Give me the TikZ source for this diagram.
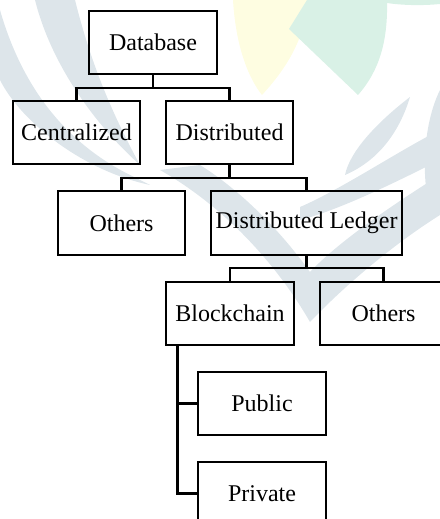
\documentclass[tikz,border=0pt]{standalone}
\usepackage{fontspec}
\setmainfont{Liberation Serif}
\usetikzlibrary{calc}
\definecolor{wmgray}{RGB}{221,229,234}
\definecolor{wmyellow}{RGB}{254,253,225}
\definecolor{wmgreen}{RGB}{217,241,230}
\tikzset{
  box/.style={draw=black, line width=2.6bp, inner sep=0pt, minimum width=128bp, minimum height=63bp,
    font=\fontsize{24bp}{28bp}\selectfont},
  conn/.style={draw=black, line width=2.6bp},
  wmg/.style={fill=wmgray, draw=none},
}
\begin{document}
\begin{tikzpicture}[x=1bp,y=-1bp]
\useasboundingbox (0,0) rectangle (440,519);
\clip (0,0) rectangle (440,519);
% watermark
\fill[wmyellow] (233,0) .. controls (236,50) and (250,80) .. (262,95) .. controls (285,70) and (305,40) .. (308,0) -- cycle;
\fill[wmgreen] (307,0) -- (289,29) -- (358,95) .. controls (380,70) and (388,40) .. (387,0) -- cycle;
\fill[wmgreen] (387,0) -- (440,0) -- (440,4) .. controls (420,6) and (400,5) .. (387,3) -- cycle;
\path[wmg] (0,10) .. controls (20,80) and (60,140) .. (130,175) -- (150,185) .. controls (80,170) and (20,120) .. (0,80) -- cycle;
\path[wmg] (35,0) -- (75,0) .. controls (90,60) and (110,110) .. (140,165) .. controls (90,120) and (50,60) .. (35,0) -- cycle;
\path[wmg] (160,170) .. controls (230,210) and (280,270) .. (310,322) .. controls (350,280) and (400,240) .. (440,215) -- (440,175) .. controls (400,200) and (340,240) .. (310,272) .. controls (280,230) and (240,190) .. (200,165) -- cycle;
\path[wmg] (410,97) .. controls (380,120) and (350,150) .. (345,175) .. controls (380,160) and (400,130) .. (410,97) -- cycle;
\path[wmg] (300,207) .. controls (340,190) and (400,150) .. (440,130) -- (440,160) .. controls (400,180) and (340,210) .. (300,220) -- cycle;
\path[wmg] (440,90) .. controls (425,120) and (420,170) .. (430,210) -- (440,210) -- cycle;
% nodes
\node[box] (db) at (153,42.5) {Database};
\node[box, minimum width=127bp] (cen) at (76.5,132.5) {Centralized};
\node[box, minimum width=127bp] (dist) at (229.5,132.5) {Distributed};
\node[box, minimum width=127bp, minimum height=64bp] (oth1) at (121.5,223) {Others};
\node[box, minimum width=191bp, minimum height=64bp] (dl) at (306.5,223) {Distributed Ledger};
\node[box] (bc) at (230,313.5) {Blockchain};
\node[box, minimum width=127bp] (oth2) at (383.5,313.5) {Others};
\node[box] (pub) at (262,403.5) {Public};
\node[box] (priv) at (262,493.5) {Private};
% junctions
\coordinate (j1) at (153,88);
\coordinate (j2) at (229.5,178);
\coordinate (j3) at (306.5,268);
\coordinate (bcs) at ($(bc.south west)+(13,0)$);
% connectors
\draw[conn] (db.south) -- (j1);
\draw[conn] (cen.north) |- (j1) -| (dist.north);
\draw[conn] (dist.south) -- (j2);
\draw[conn] (oth1.north) |- (j2) -| (dl.north);
\draw[conn] (dl.south) -- (j3);
\draw[conn] (bc.north) |- (j3) -| (oth2.north);
\draw[conn] (bcs) |- (pub.west);
\draw[conn] (bcs) |- (priv.west);
\end{tikzpicture}
\end{document}
